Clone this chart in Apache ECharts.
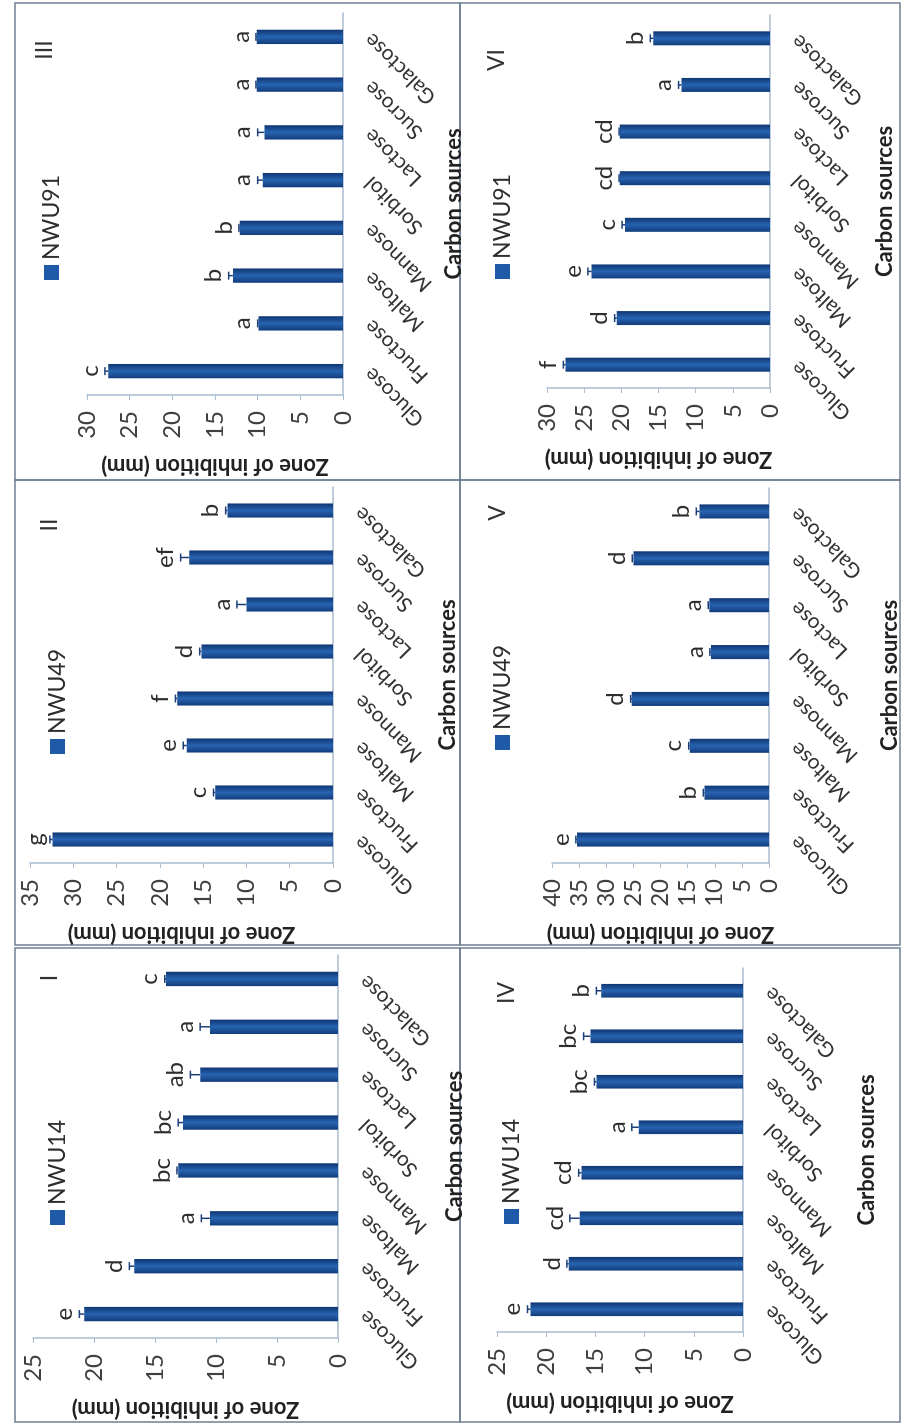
<!DOCTYPE html>
<html>
<head>
<meta charset="utf-8">
<script src="https://cdn.jsdelivr.net/npm/echarts@6/dist/echarts.min.js"></script>
<style>
  html, body { margin: 0; padding: 0; background: #fff; overflow: hidden; }
  /* figure is drawn upright, then turned a quarter turn like the scanned page */
  #wrap {
    position: absolute; left: 0; top: 0;
    width: 1425px; height: 902px;
    transform-origin: 0 0;
    transform: translate(0, 1425px) rotate(-90deg);
  }
</style>
</head>
<body>
<div id="wrap"></div>
<script>
var categories = ['Glucose', 'Fructose', 'Maltose', 'Mannose', 'Sorbitol', 'Lactose', 'Sucrose', 'Galactose'];
var panelNames = ['I', 'II', 'III', 'IV', 'V', 'VI'];
var strains = ['NWU14', 'NWU49', 'NWU91', 'NWU14', 'NWU49', 'NWU91'];
var axisMax = [25, 35, 30, 25, 40, 30];

var valuesI   = [20.8, 16.7, 10.5, 13.1, 12.7, 11.3, 10.5, 14.1];
var valuesII  = [32.4, 13.6, 16.9, 18.0, 15.2, 10.0, 16.6, 12.2];
var valuesIII = [27.5, 9.9, 12.9, 12.1, 9.4, 9.2, 10.1, 10.1];
var valuesIV  = [21.6, 17.7, 16.6, 16.4, 10.6, 14.9, 15.5, 14.4];
var valuesV   = [35.4, 11.9, 14.6, 25.3, 10.7, 11.0, 25.0, 12.8];
var valuesVI  = [27.5, 20.6, 24.0, 19.5, 20.2, 20.2, 11.9, 15.7];

var errI   = [0.4, 0.4, 0.7, 0.1, 0.4, 0.8, 0.8, 0.1];
var errII  = [0.3, 0.2, 0.4, 0.2, 0.2, 1.1, 1.0, 0.2];
var errIII = [0.4, 0.1, 0.5, 0.1, 0.6, 0.8, 0.1, 0.1];
var errIV  = [0.3, 0.2, 1.0, 0.3, 0.7, 0.2, 0.7, 0.5];
var errV   = [0.2, 0.2, 0.2, 0.2, 0.2, 0.2, 0.2, 0.6];
var errVI  = [0.3, 0.3, 0.5, 0.4, 0.1, 0.1, 0.4, 0.4];

var lettersI   = ['e', 'd', 'a', 'bc', 'bc', 'ab', 'a', 'c'];
var lettersII  = ['g', 'c', 'e', 'f', 'd', 'a', 'ef', 'b'];
var lettersIII = ['c', 'a', 'b', 'b', 'a', 'a', 'a', 'a'];
var lettersIV  = ['e', 'd', 'cd', 'cd', 'a', 'bc', 'bc', 'b'];
var lettersV   = ['e', 'b', 'c', 'd', 'a', 'a', 'd', 'b'];
var lettersVI  = ['f', 'd', 'e', 'c', 'cd', 'cd', 'a', 'b'];

var allValues = [valuesI, valuesII, valuesIII, valuesIV, valuesV, valuesVI];
var allErr = [errI, errII, errIII, errIV, errV, errVI];
var allLetters = [lettersI, lettersII, lettersIII, lettersIV, lettersV, lettersVI];

// layout of the upright figure (px)
var grids = [
  { left: 87,   top: 33,  width: 383, height: 305 },
  { left: 562,  top: 30,  width: 376, height: 303 },
  { left: 1030, top: 87,  width: 382, height: 256 },
  { left: 93,   top: 497, width: 364, height: 246 },
  { left: 562,  top: 552, width: 375, height: 218 },
  { left: 1037, top: 547, width: 373, height: 223 }
];
var boxes = [
  [3, 15, 474, 445], [480, 15, 465, 445], [945, 15, 477, 445],
  [3, 460, 474, 440], [480, 460, 465, 440], [945, 460, 477, 440]
];
var tagPos = [[447, 50], [900, 50], [1375, 45], [432, 507], [912, 498], [1365, 497]];
var legendPos = [[195, 41], [666, 41], [1140, 35], [196, 495], [670, 486], [1141, 486]];
var catNameGap = [106, 104, 86, 113, 110, 104];

var FONT = 'Lato, "Open Sans", sans-serif';
var barColor = new echarts.graphic.LinearGradient(0, 0, 1, 0, [
  { offset: 0, color: '#123c7c' },
  { offset: 0.5, color: '#2763b0' },
  { offset: 1, color: '#0f3673' }
]);

function errRender(p) {
  return function (params, api) {
    var i = params.dataIndex;
    var v = api.value(1), e = api.value(2);
    var base = api.coord([i, v]);
    var top = api.coord([i, v + e]);
    return {
      type: 'group',
      children: [
        { type: 'line', shape: { x1: base[0], y1: base[1], x2: top[0], y2: top[1] },
          style: { stroke: '#1d3f78', lineWidth: 1.5 } },
        { type: 'line', shape: { x1: top[0] - 4, y1: top[1], x2: top[0] + 4, y2: top[1] },
          style: { stroke: '#1d3f78', lineWidth: 1.5 } },
        { type: 'text', x: top[0], y: top[1] - 3,
          style: { text: allLetters[p][i], fill: '#2e2e2e', font: '24px ' + FONT,
                   textAlign: 'center', textVerticalAlign: 'bottom' } }
      ]
    };
  };
}

var option = {
  animation: false,
  backgroundColor: '#fff',
  textStyle: { fontFamily: FONT },
  grid: [], xAxis: [], yAxis: [], series: [], legend: [], graphic: []
};

for (var p = 0; p < 6; p++) {
  option.grid.push(grids[p]);
  option.xAxis.push({
    type: 'category', gridIndex: p, data: categories,
    name: 'Carbon sources', nameLocation: 'middle', nameGap: catNameGap[p],
    nameTextStyle: { fontSize: 22, fontWeight: 'bold', color: '#222' },
    axisLine: { lineStyle: { color: '#a9bcd0', width: 1.5 } },
    axisTick: { show: false },
    axisLabel: { rotate: 45, margin: 25, fontSize: 21, color: '#333' }
  });
  option.yAxis.push({
    type: 'value', gridIndex: p, min: 0, max: axisMax[p], interval: 5,
    name: 'Zone of inhibition (mm)', nameLocation: 'middle', nameGap: 60,
    nameTextStyle: { fontSize: 22, fontWeight: 'bold', color: '#222' },
    splitLine: { show: false },
    axisLine: { show: true, lineStyle: { color: '#a9bcd0', width: 1.5 } },
    axisTick: { show: true, length: 5, lineStyle: { color: '#a9bcd0' } },
    axisLabel: { margin: 16, fontSize: 24, color: '#404040' }
  });
  option.series.push({
    type: 'bar', name: strains[p], xAxisIndex: p, yAxisIndex: p,
    data: allValues[p], barWidth: '30%',
    itemStyle: { color: barColor }
  });
  option.series.push({
    type: 'custom', xAxisIndex: p, yAxisIndex: p, z: 5,
    renderItem: errRender(p),
    data: allValues[p].map(function (v, i) { return [i, v, allErr[p][i]]; })
  });
  option.legend.push({
    data: [{ name: strains[p], icon: 'rect', itemStyle: { color: '#1f5aa8' } }],
    left: legendPos[p][0], top: legendPos[p][1],
    itemWidth: 15, itemHeight: 15, itemGap: 4,
    textStyle: { fontSize: 23, color: '#2e2e2e' }
  });
  option.graphic.push({
    type: 'rect',
    shape: { x: boxes[p][0], y: boxes[p][1], width: boxes[p][2], height: boxes[p][3] },
    style: { fill: 'none', stroke: '#6f7f92', lineWidth: 1.5 }, silent: true
  });
  option.graphic.push({
    type: 'text', x: tagPos[p][0], y: tagPos[p][1],
    style: { text: panelNames[p], font: '23px ' + FONT, fill: '#333',
             textAlign: 'center', textVerticalAlign: 'middle' }
  });
}

var chart = echarts.init(document.getElementById('wrap'));
chart.setOption(option);
</script>
</body>
</html>
